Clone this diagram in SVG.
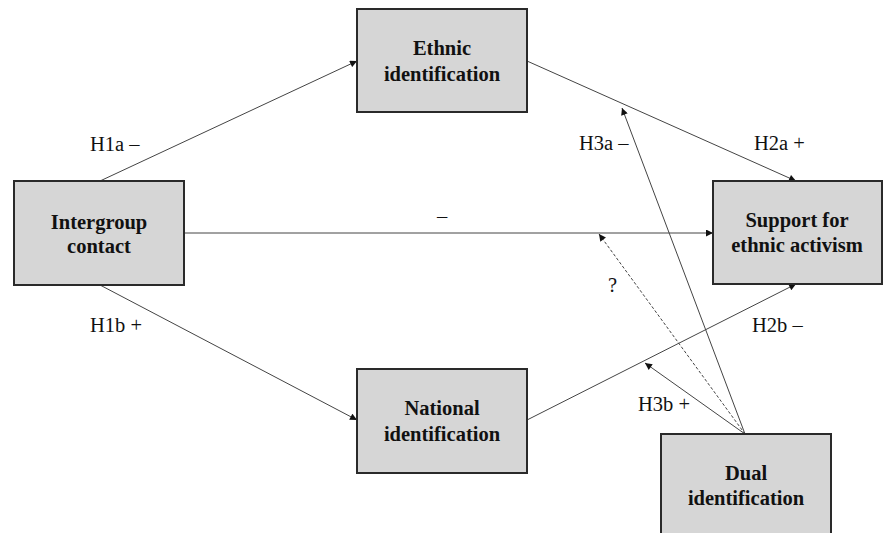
<svg xmlns="http://www.w3.org/2000/svg" width="885" height="533" viewBox="0 0 885 533">
<style>
.box{fill:#d6d6d6;stroke:#2a2a2a;stroke-width:2}
.nt{font-family:"Liberation Serif","Times New Roman",serif;font-weight:bold;font-size:20.5px;fill:#111;text-anchor:middle}
.lb{font-family:"Liberation Serif","Times New Roman",serif;font-size:20.5px;fill:#111}
.ln{stroke:#444;stroke-width:1;fill:none;marker-end:url(#ah)}
.dash{stroke-dasharray:3,2}
</style>
<defs>
<marker id="ah" viewBox="0 0 10 10" refX="10" refY="5" markerWidth="8" markerHeight="7" markerUnits="userSpaceOnUse" orient="auto">
<path d="M0,0 L10,5 L0,10 z" fill="#111"/>
</marker>
</defs>
<rect width="885" height="533" fill="#fff"/>
<g id="connectors">
<line class="ln" x1="100" y1="181" x2="357" y2="61"/>
<line class="ln" x1="100" y1="285" x2="357" y2="420"/>
<line class="ln" x1="184" y1="233" x2="713" y2="233"/>
<line class="ln" x1="527" y1="61" x2="796" y2="181"/>
<line class="ln" x1="527" y1="420" x2="796" y2="284"/>
<line class="ln" x1="745" y1="434" x2="622" y2="108"/>
<line class="ln" x1="745" y1="434" x2="645" y2="363"/>
<line class="ln dash" x1="745" y1="434" x2="599" y2="234"/>
</g>
<g id="labels">
<text class="lb" x="90" y="151">H1a –</text>
<text class="lb" x="90" y="332">H1b +</text>
<text class="lb" x="437" y="223">–</text>
<text class="lb" x="579" y="150">H3a –</text>
<text class="lb" x="754" y="150">H2a +</text>
<text class="lb" x="608" y="292">?</text>
<text class="lb" x="752" y="332">H2b –</text>
<text class="lb" x="638" y="411">H3b +</text>
</g>
<g id="intergroup">
<rect class="box" x="14" y="181" width="170" height="104"/>
<text class="nt" x="99" y="229">Intergroup</text>
<text class="nt" x="99" y="253">contact</text>
</g>
<g id="ethnic">
<rect class="box" x="357" y="9" width="170" height="103"/>
<text class="nt" x="442" y="55">Ethnic</text>
<text class="nt" x="442" y="81">identification</text>
</g>
<g id="support">
<rect class="box" x="713" y="181" width="169" height="103"/>
<text class="nt" x="797" y="227">Support for</text>
<text class="nt" x="797" y="252">ethnic activism</text>
</g>
<g id="national">
<rect class="box" x="357" y="369" width="170" height="104"/>
<text class="nt" x="442" y="415">National</text>
<text class="nt" x="442" y="441">identification</text>
</g>
<g id="dual">
<rect class="box" x="661" y="434" width="170" height="104"/>
<text class="nt" x="746" y="480">Dual</text>
<text class="nt" x="746" y="505">identification</text>
</g>
</svg>
